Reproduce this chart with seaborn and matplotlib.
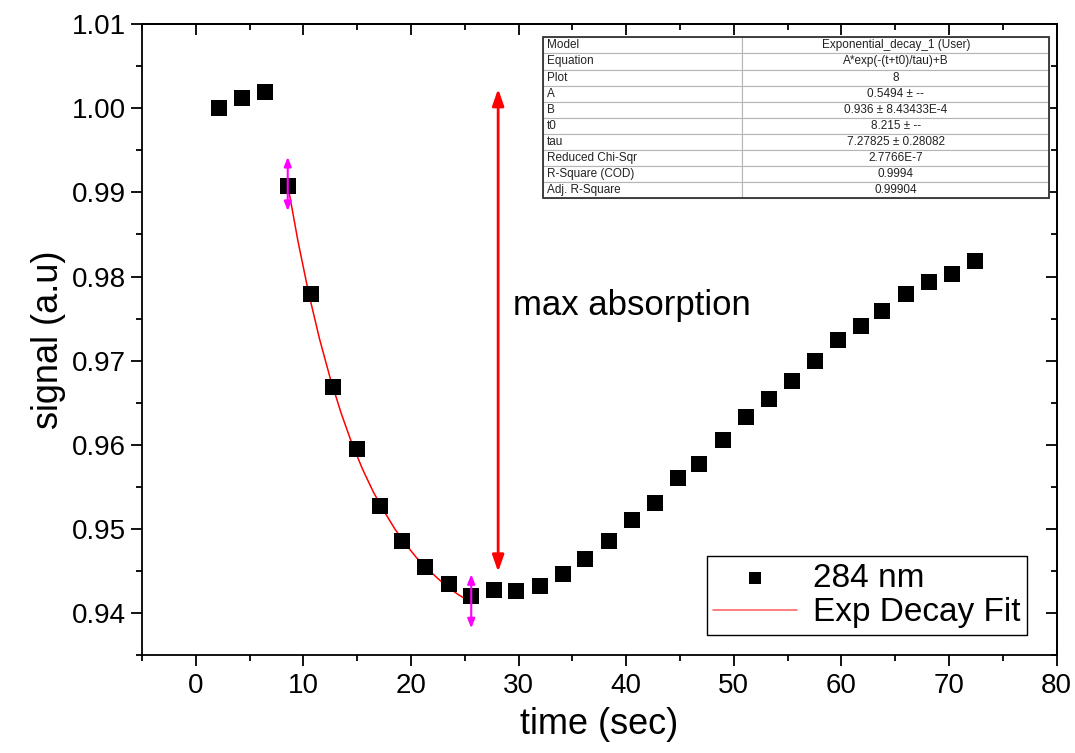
import matplotlib
matplotlib.use("Agg")
import matplotlib.pyplot as plt
from matplotlib.ticker import MultipleLocator
from matplotlib.patches import Rectangle
import seaborn as sns
import pandas as pd

# ---- data ----
time_s = [2.2, 4.3, 6.4, 8.55, 10.7, 12.8, 15.0, 17.1, 19.2, 21.3, 23.5, 25.6,
          27.7, 29.8, 32.0, 34.1, 36.2, 38.4, 40.5, 42.7, 44.8, 46.8, 49.0, 51.1,
          53.3, 55.4, 57.5, 59.7, 61.8, 63.8, 66.0, 68.1, 70.3, 72.4]
signal = [1.0000, 1.0012, 1.0019, 0.9908, 0.9779, 0.9669, 0.9595, 0.9527, 0.9486,
          0.9455, 0.9435, 0.9420, 0.9427, 0.9426, 0.9432, 0.9446, 0.9464, 0.9486,
          0.9510, 0.9531, 0.9560, 0.9577, 0.9606, 0.9633, 0.9654, 0.9676, 0.9700,
          0.9724, 0.9741, 0.9759, 0.9779, 0.9793, 0.9803, 0.9818]

# fitted curve (red line)
fit_t = [8.55, 9.5, 10.5, 11.5, 12.5, 13.5, 14.5, 15.5, 16.5, 17.5, 18.5, 19.5,
         20.5, 21.5, 22.5, 23.5, 24.5, 25.6]
fit_signal = [0.9909, 0.9842, 0.9780, 0.9726, 0.9679, 0.9638, 0.9602, 0.9571,
              0.9544, 0.9521, 0.9500, 0.9482, 0.9466, 0.9453, 0.9441, 0.9430,
              0.9421, 0.9413]

# max absorption arrow: from the peak level down to the dip
absorb_t = 28.1
absorb_top = 1.0023
absorb_bottom = 0.9449

table_keys = ["Model", "Equation", "Plot", "A", "B", "t0", "tau",
              "Reduced Chi-Sqr", "R-Square (COD)", "Adj. R-Square"]
table_vals = ["Exponential_decay_1 (User)", "A*exp(-(t+t0)/tau)+B", "8",
              "0.5494 \u00b1 --", "0.936 \u00b1 8.43433E-4", "8.215 \u00b1 --",
              "7.27825 \u00b1 0.28082", "2.7766E-7", "0.9994", "0.99904"]

xticks = [0, 10, 20, 30, 40, 50, 60, 70, 80]
yticks = [0.94, 0.95, 0.96, 0.97, 0.98, 0.99, 1.00, 1.01]

# ---- style ----
sns.set_style("ticks")
plt.rcParams['font.family'] = ['Liberation Sans', 'DejaVu Sans']
plt.rcParams['text.color'] = 'black'
plt.rcParams['axes.labelcolor'] = 'black'

fig, ax = plt.subplots(figsize=(10.75, 7.53), dpi=100)
fig.subplots_adjust(left=0.132, right=0.983, top=0.968, bottom=0.130)

df = pd.DataFrame({'time': time_s, 'signal': signal})
df_fit = pd.DataFrame({'time': fit_t, 'signal': fit_signal})

sns.scatterplot(data=df, x='time', y='signal', marker='s', s=120, color='black',
                linewidth=0, label='284 nm', ax=ax, zorder=3)
sns.lineplot(data=df_fit, x='time', y='signal', color='red', linewidth=1.1,
             label='Exp Decay Fit', ax=ax, zorder=2)

ax.set_xlim(-5, 80)
ax.set_ylim(0.935, 1.01)
ax.set_xticks(xticks)
ax.set_yticks(yticks)
ax.set_yticklabels([f"{v:.2f}" for v in yticks])
ax.xaxis.set_minor_locator(MultipleLocator(5))
ax.yaxis.set_minor_locator(MultipleLocator(0.005))
ax.tick_params(which='major', direction='out', length=8, width=1.3, labelsize=20,
               color='black', labelcolor='black')
ax.tick_params(which='minor', direction='out', length=4, width=1.3, color='black')
ax.tick_params(axis='x', pad=5)

for sp in ax.spines.values():
    sp.set_visible(True)
    sp.set_linewidth(1.3)
    sp.set_color('black')

# inward ticks on top and right
top = ax.secondary_xaxis('top')
top.set_xticks(xticks)
top.set_xticklabels([])
top.xaxis.set_minor_locator(MultipleLocator(5))
top.tick_params(which='major', direction='in', length=8, width=1.3, color='black')
top.tick_params(which='minor', direction='in', length=4, width=1.3, color='black')
top.spines['top'].set_linewidth(1.3)
top.spines['top'].set_color('black')

right = ax.secondary_yaxis('right')
right.set_yticks(yticks)
right.set_yticklabels([])
right.yaxis.set_minor_locator(MultipleLocator(0.005))
right.tick_params(which='major', direction='in', length=8, width=1.3, color='black')
right.tick_params(which='minor', direction='in', length=4, width=1.3, color='black')
right.spines['right'].set_linewidth(1.3)
right.spines['right'].set_color('black')

ax.set_xlabel("time (sec)", fontsize=26, labelpad=6)
ax.set_ylabel("signal (a.u)", fontsize=26, labelpad=4)

# annotations
ax.annotate('', xy=(absorb_t, absorb_top), xytext=(absorb_t, absorb_bottom),
            arrowprops=dict(arrowstyle='<|-|>,head_length=1.0,head_width=0.35',
                            color='red', lw=2, shrinkA=0, shrinkB=0), zorder=4)
ax.text(absorb_t + 1.35, 0.9766, "max absorption", fontsize=25, va='center',
        color='black')

for tx, ty in [(fit_t[0], fit_signal[0]), (fit_t[-1], fit_signal[-1])]:
    ax.annotate('', xy=(tx, ty + 0.0033), xytext=(tx, ty - 0.0031),
                arrowprops=dict(arrowstyle='<|-|>,head_length=0.55,head_width=0.22',
                                color='#ff00ff', lw=1.5, shrinkA=0, shrinkB=0), zorder=4)

# legend
handles, labels = ax.get_legend_handles_labels()
leg = ax.legend(handles, labels, loc='lower right', bbox_to_anchor=(0.968, 0.032),
                borderaxespad=0, fontsize=24, frameon=True, fancybox=False,
                framealpha=1, edgecolor='black', handlelength=2.5,
                handletextpad=0.5, borderpad=0.2, labelspacing=0.1, markerscale=0.8)
leg.get_frame().set_linewidth(1.0)
for txt in leg.get_texts():
    txt.set_color('black')
for ln in leg.get_lines():
    ln.set_color('#ff5a5a')

# fit result table
tbl = ax.table(cellText=[[k, v] for k, v in zip(table_keys, table_vals)],
               colWidths=[0.394, 0.606], cellLoc='center',
               bbox=[0.438, 0.724, 0.554, 0.255], zorder=5)
tbl.auto_set_font_size(False)
tbl.set_fontsize(8.5)
for (r, c), cell in tbl.get_celld().items():
    cell.set_edgecolor('#b5b5b5')
    cell.set_linewidth(0.8)
    cell.get_text().set_color('#222222')
    if c == 0:
        cell._loc = 'left'
        cell.get_text().set_horizontalalignment('left')
        cell.PAD = 0.02
ax.add_patch(Rectangle((0.438, 0.724), 0.554, 0.255, transform=ax.transAxes,
                       fill=False, edgecolor='#333333', linewidth=1.3, zorder=6))

fig.savefig("out.png", dpi=100)
